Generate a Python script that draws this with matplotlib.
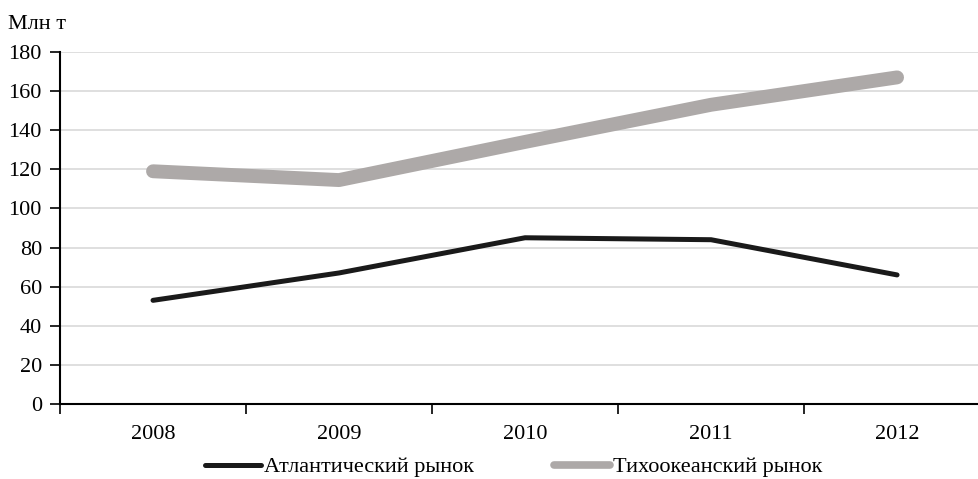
import matplotlib.pyplot as plt
from matplotlib.lines import Line2D

plt.rcParams['font.family'] = ['Liberation Serif', 'DejaVu Serif']

years = ['2008', '2009', '2010', '2011', '2012']
atlantic = [53, 67, 85, 84, 66]
pacific = [119, 114.5, 134, 153, 167]

black = '#1a1a1a'
grey = '#ada9a8'

fig = plt.figure(figsize=(9.79, 4.79), dpi=100)
ax = fig.add_axes([0.0613, 0.1566, 0.950, 0.7349])

x = range(len(years))
ax.plot(x, atlantic, color=black, linewidth=3.6, solid_capstyle='round',
        solid_joinstyle='round', zorder=3)
ax.plot(x, pacific, color=grey, linewidth=10, solid_capstyle='round',
        solid_joinstyle='round', zorder=3)

ax.set_xlim(-0.5, len(years) - 0.5)
ax.set_ylim(0, 180)
ax.set_yticks(range(0, 181, 20))
ax.yaxis.grid(True, color='#d9d9d9', linewidth=1.2)
ax.set_axisbelow(True)

# category boundaries get tick marks, labels sit between them
ax.set_xticks([i - 0.5 for i in range(len(years) + 1)])
ax.set_xticklabels([])
ax.set_xticks(list(x), minor=True)
ax.set_xticklabels(years, minor=True)
ax.tick_params(axis='x', which='major', length=7, width=1.2, direction='out')
ax.tick_params(axis='x', which='minor', length=0, pad=15, labelsize=16)
ax.tick_params(axis='y', length=7, width=1.2, labelsize=16, pad=6)

for side in ['top', 'right']:
    ax.spines[side].set_visible(False)
for side in ['left', 'bottom']:
    ax.spines[side].set_linewidth(1.5)

fig.text(0.008, 0.948, 'Млн т', fontsize=16, va='center', ha='left')

handles = [
    Line2D([], [], color=black, linewidth=3.6, solid_capstyle='round'),
    Line2D([], [], color=grey, linewidth=5.5, solid_capstyle='round'),
]
labels = ['Атлантический рынок', 'Тихоокеанский рынок']
fig.legend(handles, labels, loc='center', bbox_to_anchor=(0.525, 0.025),
           ncol=2, frameon=False, fontsize=16, handlelength=2.5,
           handletextpad=0.15, columnspacing=3.6)

fig.savefig('out.png', dpi=100)
